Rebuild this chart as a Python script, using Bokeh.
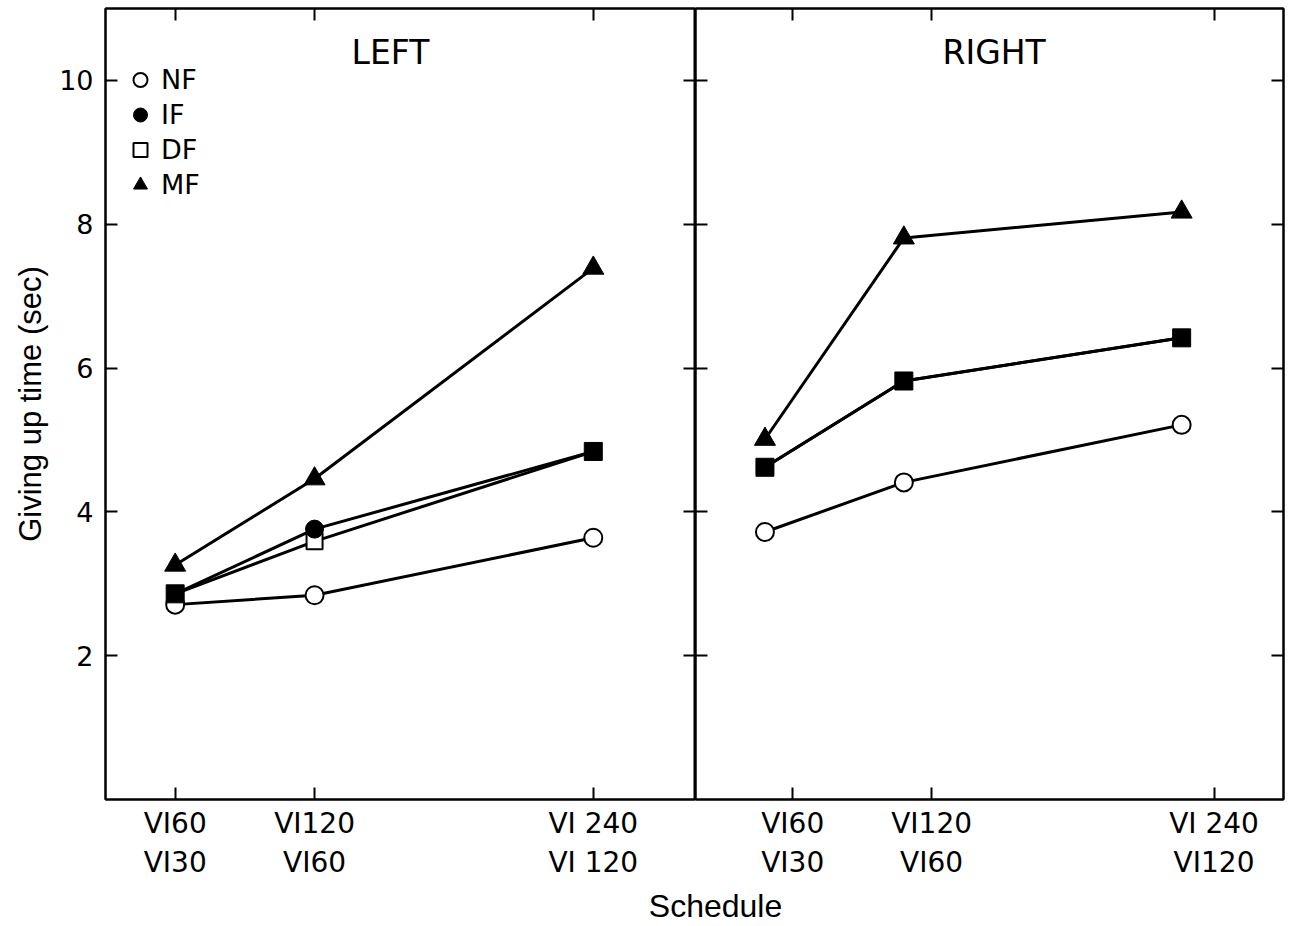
from bokeh.plotting import figure
from bokeh.models import (Range1d, LinearAxis, FixedTicker, Legend, LegendItem,
                          ColumnDataSource)
from bokeh.layouts import column, row
from bokeh.embed import file_html
from bokeh.resources import INLINE
from bokeh.core.properties import value

# ---- data -----------------------------------------------------------------
# x position of each schedule pair = the longer VI value (s)
schedule_x = [60, 120, 240]

left_tick_labels = ["VI60\nVI30", "VI120\nVI60", "VI 240\nVI 120"]
right_tick_labels = ["VI60\nVI30", "VI120\nVI60", "VI 240\nVI120"]

# giving-up time (s), LEFT key
left_nf = [2.71, 2.84, 3.64]
left_if = [2.86, 3.76, 4.84]
left_df = [2.86, 3.59, 4.84]
left_mf = [3.26, 4.46, 7.39]

# giving-up time (s), RIGHT key
right_nf = [3.72, 4.41, 5.21]
right_if = [4.62, 5.82, 6.42]
right_df = [4.62, 5.82, 6.42]
right_mf = [5.01, 7.81, 8.17]

y_ticks = [2, 4, 6, 8, 10]

# ---- styling ----------------------------------------------------------------
FONT = "DejaVu Sans"
LABEL_FONT = "Liberation Sans"
X_RANGE = (30, 284)
Y_RANGE = (0, 11)
FIG_H = 882
left_tick_x = [60, 120, 240]
right_tick_x = [72, 132, 254]


def style_axis(ax, show_labels):
    ax.axis_line_color = "black"
    ax.axis_line_width = 2
    ax.major_tick_line_color = "black"
    ax.major_tick_line_width = 2
    ax.major_tick_in = 12
    ax.major_tick_out = 0
    ax.minor_tick_line_color = None
    ax.major_label_text_color = "black"
    ax.major_label_text_font = FONT
    if not show_labels:
        # tick marks only: labels take no room and are not painted
        ax.major_label_text_font_size = "0px"
        ax.major_label_text_color = None
        ax.major_label_standoff = 0


def make_panel(name, width, border_left, border_right, tick_x, tick_labels,
               nf, if_, df, mf, title_x, show_y_labels):
    p = figure(width=width, height=FIG_H,
               x_range=Range1d(*X_RANGE), y_range=Range1d(*Y_RANGE),
               toolbar_location=None, output_backend="svg",
               min_border_left=border_left, min_border_right=border_right,
               min_border_top=8, min_border_bottom=82)
    p.grid.visible = False
    p.outline_line_color = "black"
    p.outline_line_width = 2
    p.background_fill_color = "white"
    p.border_fill_color = "white"

    # bottom axis with the schedule labels
    xa = p.xaxis[0]
    xa.ticker = FixedTicker(ticks=tick_x)
    xa.major_label_overrides = {t: lab for t, lab in zip(tick_x, tick_labels)}
    style_axis(xa, True)
    xa.major_label_text_font_size = "28px"
    xa.major_label_standoff = 7

    ya = p.yaxis[0]
    ya.ticker = FixedTicker(ticks=y_ticks)
    style_axis(ya, show_y_labels)
    if show_y_labels:
        ya.major_label_text_font_size = "27px"
        ya.major_label_standoff = 12
        ya.axis_label = "Giving up time (sec)"
        ya.axis_label_text_font = LABEL_FONT
        ya.axis_label_text_font_size = "31px"
        ya.axis_label_text_font_style = "normal"
        ya.axis_label_text_color = "black"
        ya.axis_label_standoff = 8

    top = LinearAxis(ticker=FixedTicker(ticks=tick_x))
    style_axis(top, False)
    p.add_layout(top, "above")
    rgt = LinearAxis(ticker=FixedTicker(ticks=y_ticks))
    style_axis(rgt, False)
    p.add_layout(rgt, "right")

    # series lines
    for ys in (nf, df, if_, mf):
        p.line(schedule_x, ys, line_color="black", line_width=3)

    same = [a == b for a, b in zip(if_, df)]
    nf_src = ColumnDataSource(dict(x=schedule_x, y=nf))
    df_src = ColumnDataSource(dict(x=[x for x, s in zip(schedule_x, same) if not s],
                                   y=[v for v, s in zip(df, same) if not s]))
    if_src = ColumnDataSource(dict(x=[x for x, s in zip(schedule_x, same) if not s],
                                   y=[v for v, s in zip(if_, same) if not s]))
    both_src = ColumnDataSource(dict(x=[x for x, s in zip(schedule_x, same) if s],
                                     y=[v for v, s in zip(if_, same) if s]))
    mf_src = ColumnDataSource(dict(x=schedule_x, y=mf))

    r_nf = p.scatter("x", "y", source=nf_src, marker="circle", size=18,
                     fill_color="white", line_color="black", line_width=2)
    r_df = p.scatter("x", "y", source=df_src, marker="square", size=16,
                     fill_color="white", line_color="black", line_width=2)
    r_if = p.scatter("x", "y", source=if_src, marker="circle", size=18,
                     fill_color="black", line_color="black", line_width=1)
    p.scatter("x", "y", source=both_src, marker="square", size=18,
              fill_color="black", line_color="black", line_width=1)
    r_mf = p.scatter("x", "y", source=mf_src, marker="triangle", size=21,
                     fill_color="black", line_color="black", line_width=1)

    p.text(x=[title_x], y=[10.39], text=[name], text_align="center",
           text_baseline="middle", text_font=value(FONT),
           text_font_size="33px", text_color="black")
    return p, (r_nf, r_if, r_df, r_mf)


p1, rends = make_panel("LEFT", 695, 105, 0, left_tick_x, left_tick_labels,
                       left_nf, left_if, left_df, left_mf, 152.7, True)
p2, _ = make_panel("RIGHT", 598, 0, 10, right_tick_x, right_tick_labels,
                   right_nf, right_if, right_df, right_mf, 159.0, False)

legend = Legend(items=[LegendItem(label=lab, renderers=[r])
                       for lab, r in zip(["NF", "IF", "DF", "MF"], rends)],
                location=(17, 597), orientation="vertical",
                glyph_width=36, glyph_height=35, label_height=35,
                spacing=0, padding=0, margin=0, label_standoff=3,
                border_line_color=None, background_fill_alpha=0,
                label_text_font=FONT, label_text_font_size="27px",
                label_text_color="black")
p1.add_layout(legend)

# shared x-axis title below both panels
p3 = figure(width=1293, height=926 - FIG_H, x_range=Range1d(0, 1293),
            y_range=Range1d(0, 926 - FIG_H), toolbar_location=None,
            output_backend="svg", min_border=0)
p3.axis.visible = False
p3.grid.visible = False
p3.outline_line_color = None
p3.text(x=[715], y=[21], text=["Schedule"], text_align="center",
        text_baseline="middle", text_font=value(LABEL_FONT),
        text_font_size="32px", text_color="black")

layout = column(row(p1, p2), p3)
open("out.html", "w").write(file_html(layout, INLINE))
